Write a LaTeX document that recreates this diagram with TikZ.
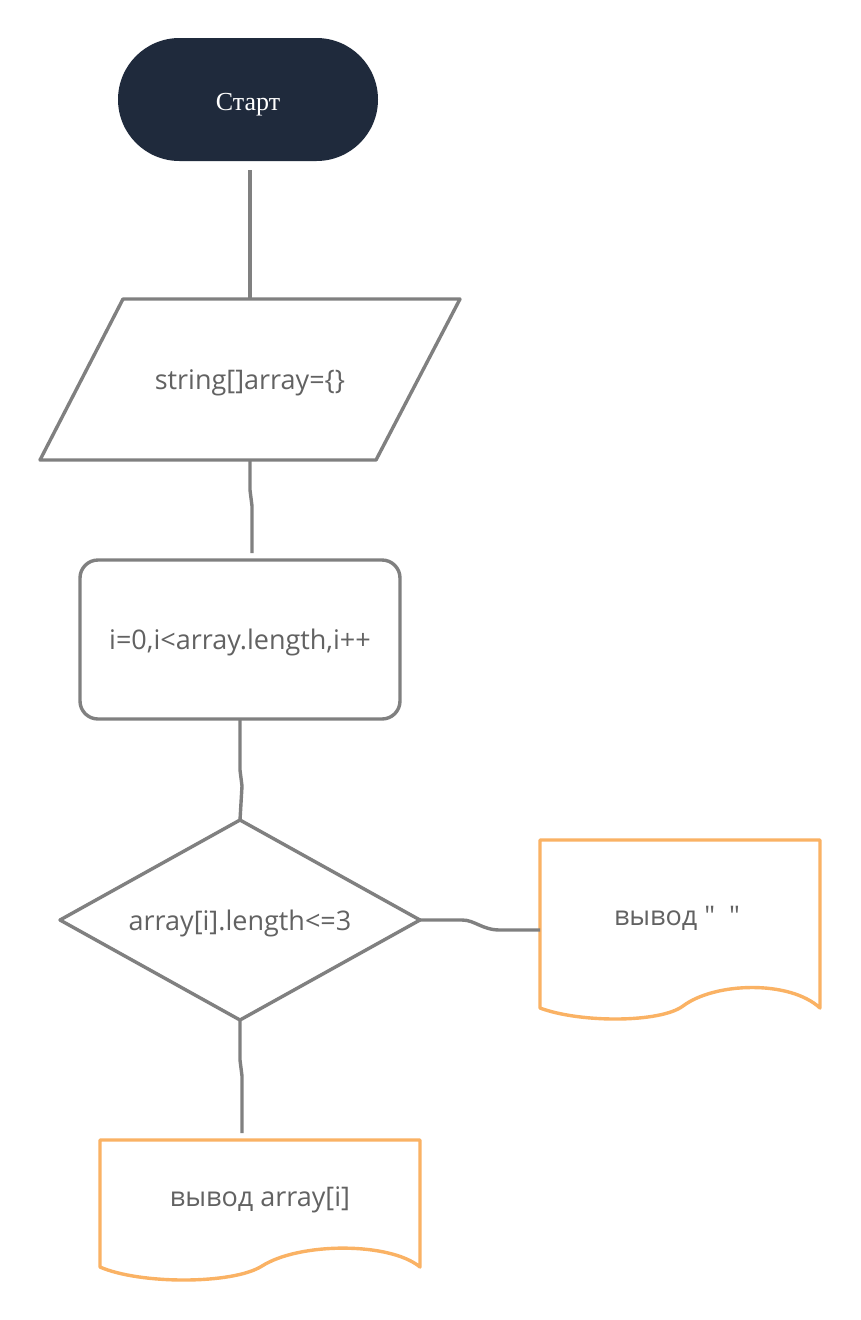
\documentclass[tikz,border=0pt]{standalone}
\usepackage{fontspec}
\setmainfont{Open Sans}[Ligatures=TeXOff]
\newfontfamily\startfont{Liberation Serif}
\usetikzlibrary{shapes.misc}
\definecolor{linegray}{HTML}{808080}
\definecolor{docorange}{HTML}{FAB264}
\definecolor{navy}{HTML}{1F2A3C}
\definecolor{txtgray}{HTML}{626262}
\begin{document}
\begin{tikzpicture}[x=1pt,y=-1pt,
  outline/.style={draw=linegray,line width=3.4pt,line join=round},
  docline/.style={draw=docorange,line width=3.4pt,line join=round},
  conn/.style={draw=linegray,line width=3.4pt},
  lbl/.style={text=txtgray,font=\fontsize{27}{32}\selectfont,inner sep=0pt},
  startbox/.style={rounded rectangle,fill=navy,text=white,minimum width=260pt,minimum height=123pt,inner sep=0pt,text height=22pt,text depth=0pt,font=\startfont\fontsize{26}{30}\selectfont},
  loopbox/.style={outline,rounded corners=18pt,minimum width=320pt,minimum height=159pt}
]
\useasboundingbox (0,0) rectangle (860,1320);
\fill[white] (0,0) rectangle (860,1320);

% start
\node[startbox] (start) at (248,99.5) {Старт};

% input parallelogram
\coordinate (pTL) at (123,299);
\coordinate (pTR) at (460,299);
\coordinate (pBR) at (376,460);
\coordinate (pBL) at (40,460);
\draw[outline] (pTL) -- (pTR) -- (pBR) -- (pBL) -- cycle;
\node[lbl] (inp) at (250,383) {string[]array=\{\}};

% loop box
\node[loopbox,lbl,text=txtgray,text height=24pt,text depth=4pt] (loop) at (240,639.5) {i=0,i<array.length,i++};

% decision diamond
\coordinate (dL) at (60,920);
\coordinate (dT) at (240,820);
\coordinate (dR) at (420,920);
\coordinate (dB) at (240,1020);
\draw[outline] (dL) -- (dT) -- (dR) -- (dB) -- cycle;
\node[lbl] (cond) at (240,923) {array[i].length<=3};

% output document 1
\coordinate (o1L) at (540,930);
\draw[docline] (540,840) -- (820,840) -- (820,1008)
  .. controls (790,980) and (715,982) .. (683,1006)
  .. controls (660,1023) and (580,1023) .. (540,1008) -- cycle;
\node[lbl] (out1) at (677,918) {вывод "\ \ "};

% output document 2
\coordinate (o2T) at (242,1140);
\draw[docline] (100,1140) -- (420,1140) -- (420,1267)
  .. controls (390,1242) and (300,1242) .. (262,1266)
  .. controls (233,1284.5) and (140,1284.5) .. (100,1267) -- cycle;
\node[lbl] (out2) at (260,1200) {вывод array[i]};

% connectors
\coordinate (c1a) at (250,170);
\coordinate (c2a) at (250,461);
\coordinate (c2b) at (252,553);
\coordinate (c3a) at (240,720);
\coordinate (c4a) at (240,1021);
\coordinate (c4b) at (242,1133);
\draw[conn] (c1a) -- (c1a |- pTL);
\draw[conn] (c2a) -- (250,490) -- (252,506) -- (c2b);
\draw[conn] (c3a) -- (240,770) -- (242,786) -- (dT);
\draw[conn] (c4a) -- (240,1060) -- (242,1076) -- (c4b);
\draw[conn] (dR) -- (462,920) .. controls (475,920) and (482,930) .. (500,930) -- (o1L);
\end{tikzpicture}
\end{document}
